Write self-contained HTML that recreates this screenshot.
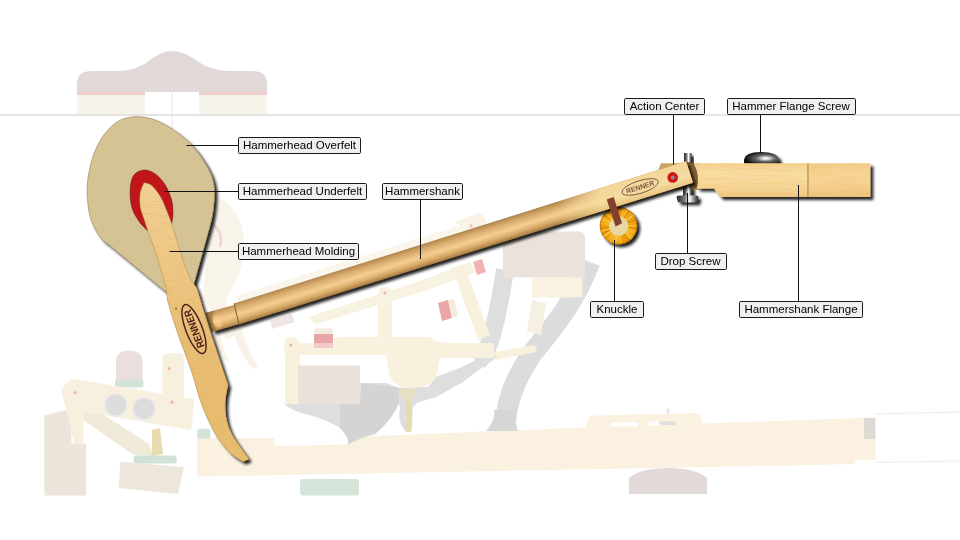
<!DOCTYPE html>
<html><head><meta charset="utf-8">
<style>
html,body{margin:0;padding:0;background:#fff;}
body{width:960px;height:540px;overflow:hidden;position:relative;font-family:"Liberation Sans",sans-serif;}
svg{position:absolute;left:0;top:0;}
.lb rect{fill:#f0f0f0;stroke:#1a1a1a;stroke-width:1;}
.lb text{font-family:"Liberation Sans",sans-serif;font-size:11.5px;fill:#000;text-anchor:middle;}
.ln{stroke:#111;stroke-width:1;fill:none;}
</style></head><body>
<svg width="960" height="540" viewBox="0 0 960 540">
<defs>
  <filter id="sh" x="-20%" y="-20%" width="150%" height="150%">
    <feGaussianBlur in="SourceAlpha" stdDeviation="1.6"/>
    <feOffset dx="3" dy="3.2" result="o"/>
    <feComponentTransfer><feFuncA type="linear" slope="0.88"/></feComponentTransfer>
    <feMerge><feMergeNode/><feMergeNode in="SourceGraphic"/></feMerge>
  </filter>
  <linearGradient id="shankg" gradientUnits="userSpaceOnUse" x1="456.4" y1="232.3" x2="463.6" y2="255.3">
    <stop offset="0" stop-color="#936d3a"/>
    <stop offset="0.1" stop-color="#bb8f54"/>
    <stop offset="0.3" stop-color="#ddb072"/>
    <stop offset="0.55" stop-color="#f5ce93"/>
    <stop offset="0.78" stop-color="#d8a966"/>
    <stop offset="1" stop-color="#98713b"/>
  </linearGradient>
  <linearGradient id="flatg" gradientUnits="userSpaceOnUse" x1="616.4" y1="182" x2="623.6" y2="206">
    <stop offset="0" stop-color="#f3d596"/>
    <stop offset="0.6" stop-color="#f6dca0"/>
    <stop offset="1" stop-color="#e6c27c"/>
  </linearGradient>
  <linearGradient id="flatfade" gradientUnits="userSpaceOnUse" x1="555" y1="0" x2="600" y2="0">
    <stop offset="0" stop-color="#fff" stop-opacity="0"/>
    <stop offset="1" stop-color="#fff" stop-opacity="1"/>
  </linearGradient>
  <mask id="flatm"><rect x="500" y="100" width="300" height="200" fill="url(#flatfade)"/></mask>
  <linearGradient id="flange" x1="0" y1="0" x2="0" y2="1">
    <stop offset="0" stop-color="#f4d291"/>
    <stop offset="0.3" stop-color="#f9dda3"/>
    <stop offset="0.7" stop-color="#f7d698"/>
    <stop offset="1" stop-color="#eec684"/>
  </linearGradient>
  <linearGradient id="mold" gradientUnits="userSpaceOnUse" x1="0" y1="182" x2="0" y2="462">
    <stop offset="0" stop-color="#f1cf96"/>
    <stop offset="0.35" stop-color="#edc684"/>
    <stop offset="0.55" stop-color="#e8bd76"/>
    <stop offset="1" stop-color="#e8bc6e"/>
  </linearGradient>
  <radialGradient id="knk" cx="0.5" cy="0.5" r="0.5">
    <stop offset="0.5" stop-color="#f8b21c"/>
    <stop offset="0.9" stop-color="#f0a010"/>
    <stop offset="1" stop-color="#c98206"/>
  </radialGradient>
  <linearGradient id="metal" x1="0" y1="0" x2="1" y2="0">
    <stop offset="0" stop-color="#222"/>
    <stop offset="0.35" stop-color="#777"/>
    <stop offset="0.6" stop-color="#fff"/>
    <stop offset="0.8" stop-color="#888"/>
    <stop offset="1" stop-color="#222"/>
  </linearGradient>
  <linearGradient id="screw" x1="0" y1="0" x2="1" y2="0">
    <stop offset="0" stop-color="#111"/>
    <stop offset="0.3" stop-color="#555"/>
    <stop offset="0.55" stop-color="#f4f4f4"/>
    <stop offset="0.75" stop-color="#777"/>
    <stop offset="1" stop-color="#111"/>
  </linearGradient>
  <filter id="grainH" x="0" y="0" width="100%" height="100%">
    <feTurbulence type="fractalNoise" baseFrequency="0.03 0.9" numOctaves="2" seed="4" result="n"/>
    <feColorMatrix in="n" type="matrix" values="0 0 0 0 0.82  0 0 0 0 0.52  0 0 0 0 0.12  0 0 0 -2.2 1.25" result="g"/>
    <feComposite in="g" in2="SourceAlpha" operator="in"/>
  </filter>
  <filter id="grainV" x="0" y="0" width="100%" height="100%">
    <feTurbulence type="fractalNoise" baseFrequency="0.08 0.6" numOctaves="2" seed="9" result="n"/>
    <feColorMatrix in="n" type="matrix" values="0 0 0 0 0.78  0 0 0 0 0.48  0 0 0 0 0.1  0 0 0 -2.2 1.2" result="g"/>
    <feComposite in="g" in2="SourceAlpha" operator="in"/>
  </filter>
  <filter id="feltn" x="0" y="0" width="100%" height="100%">
    <feTurbulence type="fractalNoise" baseFrequency="0.9" numOctaves="1" seed="2" result="n"/>
    <feColorMatrix in="n" type="matrix" values="0 0 0 0 0.3  0 0 0 0 0.25  0 0 0 0 0.1  0 0 0 -0.8 0.5" result="g"/>
    <feComposite in="g" in2="SourceAlpha" operator="in"/>
  </filter>
  <radialGradient id="dome" cx="0.62" cy="0.55" r="0.6">
    <stop offset="0" stop-color="#ffffff"/>
    <stop offset="0.18" stop-color="#d8d8d8"/>
    <stop offset="0.45" stop-color="#6a6a6a"/>
    <stop offset="1" stop-color="#0c0c0c"/>
  </radialGradient>
</defs>
<!-- ============ faded background ============ -->
<g id="bg">
  <!-- damper head -->
  <path d="M77,92 L77,84 Q77,71 92,71 L120,71 Q138,70 150,60 Q162,51 172,51 Q184,51 197,61 Q210,70 228,71 L252,71 Q267,71 267,84 L267,92 Z" fill="#e1d9d7"/>
  <rect x="77" y="92" width="68" height="3" fill="#f0cdcd"/>
  <rect x="199" y="92" width="68" height="3" fill="#f0cdcd"/>
  <rect x="77" y="95" width="68" height="19.500" fill="#f6f3ea"/>
  <rect x="199" y="95" width="68" height="19.500" fill="#f6f3ea"/>
  <rect x="171.600" y="85" width="1" height="44" fill="#e6e6e6"/>
  <rect x="0" y="114.300" width="960" height="1.400" fill="#dadada"/>

  <!-- ghost hammer (rest position) -->
  <path d="M212,196 C232,200 246,222 244,250 C243,268 236,282 226,300 L236,335 L226,340 L205,300 C200,280 214,240 212,196 Z" fill="#f8f4ea"/>
  <path d="M211,224 C219,227 223,236 220,247" fill="none" stroke="#f2d4d6" stroke-width="2.500"/>
  <!-- ghost shank -->
  <path d="M236,296 L470,222 L474,232 L240,306 Z" fill="#faf6ec"/>
  <path d="M455,222 L478,213 L484,216 L488,226 L470,233 Z" fill="#f8f3e6"/>
  <circle cx="471" cy="226" r="1.800" fill="#f1c4c4"/>

  <path d="M231,322 L241,320 C243,340 250,355 258,366 L254,369 C244,360 235,342 231,322 Z" fill="#f7f2e5"/>
  <path d="M214,336 L221,334 C222,345 225,353 229,360 L225,361 C219,353 215,345 214,336 Z" fill="#f8f4e9"/>
  <path d="M270,321 L292,314 L294.500,322 L272.500,329 Z" fill="#efe5e3"/>
  <!-- key -->
  <path d="M197,438 L274,438 L275,446 L345,444.500 L364,436.500 L586,427.500 L588,420 Q589,415.600 594,415.600 L694,413 Q700,413 701,418 L702,423.500 L875.600,417.600 L875.600,460 L855,460 L855,464 L790,465.500 L197,476.500 Z" fill="#fbf1e0"/>
  <rect x="611" y="422.400" width="27" height="4" fill="#ffffff"/>
  <rect x="649" y="421.500" width="10.500" height="4" fill="#ffffff"/>
  <rect x="659.500" y="421.500" width="16" height="3.500" fill="#dedede"/>
  <rect x="666.500" y="408.500" width="3" height="5" rx="1.500" fill="#e3e3e3"/>
  <rect x="864.200" y="418" width="11" height="21" fill="#ddd9d3"/>
  <path d="M875.600,414 L960,412 M875.600,462.500 L960,461" fill="none" stroke="#ececec" stroke-width="1"/>
  <!-- balance pivot -->
  <path d="M629,494 L629,478 Q640,468 668,468 Q696,468 707,478 L707,494 Z" fill="#e2dad8"/>
  <!-- green felt under key -->
  <rect x="300" y="479" width="59" height="16.500" rx="3" fill="#d6e5da"/>

  <!-- gray bracket frames -->
  <path d="M283.600,403.400 L360,403.400 L360.700,383 L386,383 L398.500,387.700 L428,387 L436.300,376.700 L461.400,367.200 L480.300,357.800 L493,348.300 L499,356 L480.300,369 L461.400,383 L436.300,397 L417.400,402.500 L412.700,408 L412,431 L405,431 Q397,421 400,409 L399,403 Q392,420 375,434 L364,437 L348,444.300 Q350,438 338.700,427 Q325,419 307.200,414.400 Q292,411 283.600,403.400 Z" fill="#dedede"/>
  <path d="M360.700,383 L398.500,387.700 L399,403 Q392,420 375,434 L364,437 L348,444 Q350,438 340,428 L340,403.400 L360,403.400 Z" fill="#d4d4d4"/>
  <path d="M478,362 Q488,350 491,338 Q498,315 505,270" fill="none" stroke="#dedede" stroke-width="18" stroke-linecap="butt"/>
  <path d="M505,430 C506,400 515,380 531,355 C548,333 572,308 590,262" fill="none" stroke="#dcdcdc" stroke-width="21" stroke-linecap="butt"/>
  <path d="M486,431 Q496,420 494,410 L516,410 Q514,420 518,431 Z" fill="#d6d6d6"/>
  <!-- wippen -->
  <path d="M284,344 Q284,337 291,337 Q298,337 300,343 L330,343 Q334,337 340,337 L378,337 L378,295 Q378,287 385,287 Q392,287 392,295 L392,337 L430,337 Q436,343 450,343 L494,343 L494,358 L440,358 L436,378 L425,387 L400,387 L390,378 L386,355 L300,355 L300,404 L285,404 L285,354 Q284,350 284,344 Z" fill="#f8f1de"/>
  <path d="M494,352 L534,345 Q538,348 536,352 L496,360 Z" fill="#f8f1de"/>
  <!-- repetition lever -->
  <path d="M308,317 L420,281 L470,262 L476,272 L428,290 L316,324 Z" fill="#f8f2e2"/>
  <!-- jack -->
  <path d="M452,268 L464,264 L490,335 L478,340 Z" fill="#f8f1de"/>
  <!-- wood blocks -->
  <rect x="298" y="365.500" width="62" height="38.500" fill="#eae1da"/>
  <path d="M503,231.500 L578,231.500 Q585,231.500 585,238 L585,277.500 L503,277.500 Z" fill="#ebe2db"/>
  <rect x="532" y="277.500" width="50.500" height="20" fill="#f9f2e0"/>
  <path d="M532,300 L546,303 L541,335 L527,331 Z" fill="#f6f0e2"/>
  <!-- red buttons -->
  <rect x="314" y="328.500" width="19" height="6" rx="2" fill="#f3ecdc"/>
  <rect x="314" y="334" width="19" height="9" fill="#eaa5a6"/>
  <rect x="314" y="343" width="19" height="5" fill="#f3c9c9"/>
  <path d="M438,303 L448,300 L452,318 L442,321 Z" fill="#eaa5a6"/>
  <path d="M448,300 L454,299 L458,316 L452,318 Z" fill="#f3ecdc"/>
  <path d="M473,262 L482,259 L486,272 L477,275 Z" fill="#f0b4b4"/>
  <!-- capstan/regulating screw -->
  <rect x="406" y="397" width="5" height="35" fill="#e6dcb4"/>
  <rect x="398.500" y="388" width="17.500" height="10.500" rx="2" fill="#e6dfc6"/>

  <!-- left assembly -->
  <path d="M44.200,415.500 L71.400,408.700 L71.400,443.600 L86.200,443.600 L86.200,495.400 L44.200,495.400 Z" fill="#ece5db"/>
  <path d="M116,380 L116,362 Q116,350.400 129,350.400 Q142.500,350.400 142.500,362 L142.500,380 Z" fill="#eadfdc"/>
  <rect x="115" y="379.400" width="28.500" height="8" rx="2.500" fill="#d3e3d7"/>
  <path d="M162.300,358 Q162.300,353.300 168,353.300 L180,353.300 Q184,353.300 184,358 L184,408 Q184,416 173,416 Q162.300,416 162.300,408 Z" fill="#f7f0de"/>
  <path d="M61,389 L71.400,378.500 L194.300,399.200 L191.300,430.300 L83.300,411.500 L83.300,443.600 L74.400,443.600 Z" fill="#f7f0de"/>
  <path d="M83.300,411.500 L104,415 L148.400,443.600 L154.300,455.500 L133.600,455 L83.300,420 Z" fill="#f0ead8"/>
  <circle cx="115.800" cy="405.100" r="11.200" fill="#dcdcdc" stroke="#ebebeb" stroke-width="1.500"/>
  <circle cx="144" cy="408.700" r="11.200" fill="#dcdcdc" stroke="#ebebeb" stroke-width="1.500"/>
  <circle cx="75" cy="392.500" r="1.600" fill="#f0b6b6"/>
  <circle cx="169.100" cy="368.700" r="1.600" fill="#f0b6b6"/>
  <circle cx="172.100" cy="402.200" r="1.600" fill="#f0b6b6"/>
  <circle cx="290.700" cy="345" r="1.600" fill="#f0b6b6"/>
  <circle cx="385" cy="293" r="1.600" fill="#f0b6b6"/>
  <path d="M152,430 L160,428 L163,454 L152,456 Z" fill="#e8dcae"/>
  <rect x="133.600" y="455.500" width="43" height="8" rx="2.500" fill="#d0e1d5"/>
  <path d="M120.300,461.400 L183.900,467.300 L178,494 L118.800,488 Z" fill="#ede6db"/>
  <rect x="197.300" y="428.800" width="13" height="10" rx="2" fill="#d3e3d7"/>
</g>
<!-- ============ main parts ============ -->
<g id="main" opacity="0.999">
  <path d="M661,163.300 L700,163.300 L700,190 L650,190 Z" fill="#c9a565"/>
  <g filter="url(#sh)"><rect x="684" y="153" width="7.500" height="11" fill="url(#metal)"/></g>
  <g filter="url(#sh)">
    <rect x="683" y="186" width="9" height="10" fill="url(#metal)"/>
    <path d="M676.500,197 Q676.500,195.500 679,195.500 L696,195.500 Q698.500,195.500 698.500,197 L697,202.300 L678,202.300 Z" fill="url(#metal)"/>
  </g>
  <g filter="url(#sh)">
    <path d="M744,163.500 L744,160 Q745,152 761,152 Q778,152 779,160 L779,163.500 Z" fill="url(#dome)"/>
  </g>
  <g filter="url(#sh)">
    <path id="flp" d="M693.500,163.300 L870.300,163.300 L870.300,196.900 L720.600,196.900 L714,188.500 L696.700,188.500 Q700.500,176 693.500,163.300 Z" fill="url(#flange)"/>
  </g>
  <use href="#flp" filter="url(#grainH)" opacity="0.4"/>
  <path d="M686,161.500 L693.500,163.300 Q700.500,176 696.700,188.500 L693,188.500 Z" fill="#7e5f32"/>
  <rect x="807.500" y="163.300" width="1" height="33.600" fill="#9a7a48"/>
  <rect x="808.500" y="163.300" width="61.800" height="33.600" fill="#f0b468" opacity="0.2"/>
  <g filter="url(#sh)">
    <circle cx="618.500" cy="225.700" r="18.700" fill="url(#knk)"/>
  </g>
  <g opacity="0.75"><line x1="627.8" y1="225.7" x2="636.9" y2="225.5" stroke="#ffd257" stroke-width="0.9"/><line x1="627.7" y1="227.3" x2="636.7" y2="228.8" stroke="#c77c05" stroke-width="1.0"/><line x1="627.3" y1="229.0" x2="635.8" y2="232.0" stroke="#ffc63a" stroke-width="0.8"/><line x1="626.8" y1="230.0" x2="635.0" y2="234.0" stroke="#ffc63a" stroke-width="1.0"/><line x1="626.0" y1="231.4" x2="633.3" y2="236.8" stroke="#ffc63a" stroke-width="1.0"/><line x1="625.2" y1="232.4" x2="631.7" y2="238.7" stroke="#ffd257" stroke-width="1.2"/><line x1="623.9" y1="233.5" x2="629.2" y2="240.9" stroke="#c77c05" stroke-width="1.1"/><line x1="622.8" y1="234.1" x2="627.2" y2="242.1" stroke="#c77c05" stroke-width="0.8"/><line x1="621.5" y1="234.7" x2="624.5" y2="243.3" stroke="#d98a08" stroke-width="0.9"/><line x1="619.7" y1="235.2" x2="621.0" y2="244.2" stroke="#ffc63a" stroke-width="1.1"/><line x1="618.1" y1="235.3" x2="617.8" y2="244.4" stroke="#ffc63a" stroke-width="1.1"/><line x1="616.8" y1="235.2" x2="615.3" y2="244.2" stroke="#ffd257" stroke-width="1.2"/><line x1="615.6" y1="234.9" x2="613.0" y2="243.6" stroke="#ffd257" stroke-width="0.9"/><line x1="614.1" y1="234.3" x2="610.1" y2="242.5" stroke="#ffc63a" stroke-width="1.1"/><line x1="612.6" y1="233.4" x2="607.0" y2="240.6" stroke="#ffc63a" stroke-width="1.0"/><line x1="611.6" y1="232.6" x2="605.2" y2="239.0" stroke="#d98a08" stroke-width="1.0"/><line x1="610.6" y1="231.4" x2="603.3" y2="236.8" stroke="#ffd257" stroke-width="1.2"/><line x1="609.8" y1="230.0" x2="601.6" y2="234.1" stroke="#c77c05" stroke-width="1.2"/><line x1="609.2" y1="228.5" x2="600.4" y2="231.0" stroke="#ffd257" stroke-width="1.1"/><line x1="608.9" y1="227.4" x2="600.0" y2="228.9" stroke="#c77c05" stroke-width="1.1"/><line x1="608.8" y1="226.0" x2="599.7" y2="226.1" stroke="#d98a08" stroke-width="0.8"/><line x1="608.9" y1="224.6" x2="599.9" y2="223.4" stroke="#ffc63a" stroke-width="0.7"/><line x1="609.3" y1="222.7" x2="600.7" y2="219.7" stroke="#ffc63a" stroke-width="1.2"/><line x1="609.7" y1="221.7" x2="601.5" y2="217.8" stroke="#ffc63a" stroke-width="1.1"/><line x1="610.7" y1="220.0" x2="603.5" y2="214.5" stroke="#c77c05" stroke-width="1.0"/><line x1="611.7" y1="219.0" x2="605.4" y2="212.4" stroke="#ffc63a" stroke-width="1.1"/><line x1="612.6" y1="218.2" x2="607.2" y2="210.9" stroke="#d98a08" stroke-width="1.0"/><line x1="614.2" y1="217.2" x2="610.4" y2="209.0" stroke="#d98a08" stroke-width="0.6"/><line x1="615.2" y1="216.8" x2="612.1" y2="208.3" stroke="#c77c05" stroke-width="1.3"/><line x1="617.1" y1="216.4" x2="615.9" y2="207.4" stroke="#d98a08" stroke-width="1.0"/><line x1="618.1" y1="216.3" x2="617.9" y2="207.2" stroke="#c77c05" stroke-width="1.3"/><line x1="619.7" y1="216.4" x2="621.0" y2="207.4" stroke="#d98a08" stroke-width="1.3"/><line x1="621.4" y1="216.8" x2="624.5" y2="208.3" stroke="#ffc63a" stroke-width="0.9"/><line x1="622.8" y1="217.4" x2="627.1" y2="209.4" stroke="#ffc63a" stroke-width="1.1"/><line x1="623.9" y1="218.1" x2="629.3" y2="210.8" stroke="#c77c05" stroke-width="1.0"/><line x1="625.2" y1="219.3" x2="631.8" y2="213.0" stroke="#d98a08" stroke-width="0.9"/><line x1="626.1" y1="220.3" x2="633.5" y2="215.1" stroke="#ffd257" stroke-width="1.3"/><line x1="626.7" y1="221.5" x2="634.8" y2="217.3" stroke="#d98a08" stroke-width="1.0"/><line x1="627.3" y1="222.9" x2="636.0" y2="220.1" stroke="#c77c05" stroke-width="1.2"/><line x1="627.7" y1="224.6" x2="636.7" y2="223.4" stroke="#d98a08" stroke-width="0.6"/></g>
  <circle cx="618.500" cy="225.700" r="18.300" fill="none" stroke="#b06f08" stroke-width="0.800" opacity="0.6"/>
  <circle cx="618.700" cy="226.100" r="9.600" fill="#e8d7a6"/>
  <g filter="url(#sh)">
    <path d="M206,312.800 L234,305 L239,324 L212.600,331.700 Z" fill="url(#shankg)"/>
    <path d="M234,303.400 L686,161.200 L693,182.800 L239,324.200 Z" fill="url(#shankg)"/>
  </g>
  <path d="M540,207 L686,161.200 L693,182.800 L540,230.400 Z" fill="url(#flatg)" mask="url(#flatm)"/>
  <path d="M234,303.400 L239,324.200" stroke="#6b4f22" stroke-width="0.800" fill="none"/>
  <path d="M205.500,313 L214,310.800 Q209.500,321 217.500,330.300 L211.500,332.300 Z" fill="#a0783c" opacity="0.85"/>
  <ellipse cx="218.500" cy="321.500" rx="3.500" ry="6" transform="rotate(-17 218.500 321.500)" fill="#fcd590" opacity="0.55"/>
  <path d="M606.700,199.400 L613.700,196.900 L622,223.300 L615.600,226.400 Z" fill="#81412d"/>
  <g transform="translate(640.100,187) rotate(-17.500)">
    <ellipse cx="0" cy="0" rx="19" ry="6.300" fill="none" stroke="#7a5a46" stroke-width="0.900"/>
    <text x="0" y="2.600" font-family="Liberation Sans, sans-serif" font-size="7.200" font-weight="bold" fill="#7a5a46" text-anchor="middle" textLength="29" lengthAdjust="spacingAndGlyphs">RENNER</text>
  </g>
  <circle cx="672.700" cy="177.400" r="5.300" fill="#d3151a"/>
  <circle cx="672.700" cy="177.400" r="2" fill="#8c8c8c"/>
  <g filter="url(#sh)"><path d="M144.0,182.7 C144.0,182.7 149.6,183.5 151.6,185.2 C154.3,187.5 157.9,192.4 160.4,196.5 C162.9,200.7 164.8,205.8 166.7,210.4 C168.5,214.8 170.2,219.3 171.7,223.8 C173.6,229.4 175.9,237.2 178.0,243.9 C180.1,250.6 182.2,258.2 184.3,264.1 C186.1,269.2 188.7,275.5 190.6,279.2 C191.9,281.7 194.5,284.3 195.6,286.1 C196.3,287.3 196.9,288.7 197.3,290.0 C198.7,294.2 201.6,304.3 203.8,311.4 C206.4,319.7 210.4,332.1 213.0,340.0 C215.1,346.3 217.2,352.6 219.3,358.9 C221.8,366.4 228.2,385.3 228.2,385.3 C228.2,385.3 225.8,395.0 225.4,400.0 C225.0,405.2 225.2,411.1 226.0,416.4 C226.8,421.6 228.5,426.9 230.5,431.5 C232.4,436.0 235.3,440.0 238.0,444.0 C241.1,448.6 249.0,459.2 249.0,459.2 L243.0,461.5 C243.0,461.5 234.2,456.4 230.5,452.9 C226.3,448.9 221.5,443.3 217.9,437.8 C214.1,432.1 210.8,425.2 207.8,418.9 C204.9,412.8 202.4,406.4 200.2,400.0 C197.5,392.1 194.7,380.9 191.6,371.5 C188.3,361.5 183.2,348.3 180.2,340.0 C178.0,333.9 175.8,327.7 173.8,321.5 C171.7,314.8 168.8,305.2 167.5,300.0 C166.7,296.7 167.0,293.3 166.3,290.0 C165.1,284.6 162.4,274.9 160.4,267.9 C158.4,261.1 156.2,253.9 154.1,247.7 C152.2,242.0 149.5,235.4 147.8,230.7 C146.5,226.9 145.2,223.1 144.0,219.2 C142.7,215.2 140.8,210.9 140.2,206.6 C139.6,202.2 139.6,196.7 140.2,192.7 C140.8,189.2 144.0,182.7 144.0,182.7 Z" fill="url(#mold)"/></g>
  <g filter="url(#sh)"><path d="M136.7,116.6 C142.6,116.6 149.7,118.0 155.6,120.1 C161.4,122.1 166.7,125.6 171.9,128.9 C177.1,132.3 182.4,136.0 187.0,140.3 C191.7,144.7 196.2,150.0 200.0,155.4 C204.0,161.0 208.4,168.3 210.8,173.9 C212.9,178.7 214.1,183.8 214.5,189.0 C214.9,195.1 214.1,203.9 213.3,210.4 C212.5,216.4 211.1,222.2 209.5,228.0 L193.5,285.5 L180.0,292.0 L165.0,291.0 L110.0,245.8 C106.6,243.0 102.6,240.6 100.0,237.0 C96.8,232.7 93.1,226.1 91.0,220.0 C88.9,213.8 88.1,206.3 87.5,200.0 C86.9,194.0 86.8,188.0 87.5,182.0 C88.2,175.2 90.1,165.7 92.0,159.2 C93.7,153.5 96.3,147.6 98.9,142.8 C101.3,138.3 104.2,133.9 107.7,130.2 C111.3,126.4 115.5,122.4 120.3,120.1 C125.1,117.8 131.1,116.6 136.7,116.6 Z" fill="#d7c596"/></g>
  <path d="M136.7,116.6 C142.6,116.6 149.7,118.0 155.6,120.1 C161.4,122.1 166.7,125.6 171.9,128.9 C177.1,132.3 182.4,136.0 187.0,140.3 C191.7,144.7 196.2,150.0 200.0,155.4 C204.0,161.0 208.4,168.3 210.8,173.9 C212.9,178.7 214.1,183.8 214.5,189.0 C214.9,195.1 214.1,203.9 213.3,210.4 C212.5,216.4 211.1,222.2 209.5,228.0 L193.5,285.5 L180.0,292.0 L165.0,291.0 L110.0,245.8 C106.6,243.0 102.6,240.6 100.0,237.0 C96.8,232.7 93.1,226.1 91.0,220.0 C88.9,213.8 88.1,206.3 87.5,200.0 C86.9,194.0 86.8,188.0 87.5,182.0 C88.2,175.2 90.1,165.7 92.0,159.2 C93.7,153.5 96.3,147.6 98.9,142.8 C101.3,138.3 104.2,133.9 107.7,130.2 C111.3,126.4 115.5,122.4 120.3,120.1 C125.1,117.8 131.1,116.6 136.7,116.6 Z" filter="url(#feltn)" opacity="0.35"/>
  <path d="M136.7,116.6 C142.6,116.6 149.7,118.0 155.6,120.1 C161.4,122.1 166.7,125.6 171.9,128.9 C177.1,132.3 182.4,136.0 187.0,140.3 C191.7,144.7 196.2,150.0 200.0,155.4 C204.0,161.0 208.4,168.3 210.8,173.9 C212.9,178.7 214.1,183.8 214.5,189.0 C214.9,195.1 214.1,203.9 213.3,210.4 C212.5,216.4 211.1,222.2 209.5,228.0 L193.5,285.5 L180.0,292.0 L165.0,291.0 L110.0,245.8 C106.6,243.0 102.6,240.6 100.0,237.0 C96.8,232.7 93.1,226.1 91.0,220.0 C88.9,213.8 88.1,206.3 87.5,200.0 C86.9,194.0 86.8,188.0 87.5,182.0 C88.2,175.2 90.1,165.7 92.0,159.2 C93.7,153.5 96.3,147.6 98.9,142.8 C101.3,138.3 104.2,133.9 107.7,130.2 C111.3,126.4 115.5,122.4 120.3,120.1 C125.1,117.8 131.1,116.6 136.7,116.6 Z" fill="none" stroke="#8f7f58" stroke-width="0.7" opacity="0.8"/>
  <path d="M144.0,170.0 C147.6,169.8 152.1,171.6 155.3,173.9 C158.9,176.4 162.7,180.9 165.4,185.2 C168.1,189.6 170.4,195.5 171.7,200.3 C172.9,204.8 173.0,210.3 173.0,214.2 C173.0,217.4 171.7,223.8 171.7,223.8 L160.0,228.0 L147.8,230.7 C147.8,230.7 142.3,226.0 140.2,223.0 C137.6,219.2 133.6,213.4 132.0,207.9 C130.3,202.2 129.9,194.5 130.2,189.0 C130.5,184.2 131.6,178.3 133.9,175.1 C136.1,172.0 140.4,170.2 144.0,170.0 Z" fill="#c01519" stroke="#5e1212" stroke-width="0.500"/>
  <path d="M144.0,182.7 C144.0,182.7 149.6,183.5 151.6,185.2 C154.3,187.5 157.9,192.4 160.4,196.5 C162.9,200.7 164.8,205.8 166.7,210.4 C168.5,214.8 170.2,219.3 171.7,223.8 C173.6,229.4 175.9,237.2 178.0,243.9 C180.1,250.6 182.2,258.2 184.3,264.1 C186.1,269.2 188.7,275.5 190.6,279.2 C191.9,281.7 194.5,284.3 195.6,286.1 C196.3,287.3 196.9,288.7 197.3,290.0 C198.7,294.2 201.6,304.3 203.8,311.4 C206.4,319.7 210.4,332.1 213.0,340.0 C215.1,346.3 217.2,352.6 219.3,358.9 C221.8,366.4 228.2,385.3 228.2,385.3 C228.2,385.3 225.8,395.0 225.4,400.0 C225.0,405.2 225.2,411.1 226.0,416.4 C226.8,421.6 228.5,426.9 230.5,431.5 C232.4,436.0 235.3,440.0 238.0,444.0 C241.1,448.6 249.0,459.2 249.0,459.2 L243.0,461.5 C243.0,461.5 234.2,456.4 230.5,452.9 C226.3,448.9 221.5,443.3 217.9,437.8 C214.1,432.1 210.8,425.2 207.8,418.9 C204.9,412.8 202.4,406.4 200.2,400.0 C197.5,392.1 194.7,380.9 191.6,371.5 C188.3,361.5 183.2,348.3 180.2,340.0 C178.0,333.9 175.8,327.7 173.8,321.5 C171.7,314.8 168.8,305.2 167.5,300.0 C166.7,296.7 167.0,293.3 166.3,290.0 C165.1,284.6 162.4,274.9 160.4,267.9 C158.4,261.1 156.2,253.9 154.1,247.7 C152.2,242.0 149.5,235.4 147.8,230.7 C146.5,226.9 145.2,223.1 144.0,219.2 C142.7,215.2 140.8,210.9 140.2,206.6 C139.6,202.2 139.6,196.7 140.2,192.7 C140.8,189.2 144.0,182.7 144.0,182.7 Z" fill="url(#mold)"/>
  <path d="M144.0,182.7 C144.0,182.7 149.6,183.5 151.6,185.2 C154.3,187.5 157.9,192.4 160.4,196.5 C162.9,200.7 164.8,205.8 166.7,210.4 C168.5,214.8 170.2,219.3 171.7,223.8 C173.6,229.4 175.9,237.2 178.0,243.9 C180.1,250.6 182.2,258.2 184.3,264.1 C186.1,269.2 188.7,275.5 190.6,279.2 C191.9,281.7 194.5,284.3 195.6,286.1 C196.3,287.3 196.9,288.7 197.3,290.0 C198.7,294.2 201.6,304.3 203.8,311.4 C206.4,319.7 210.4,332.1 213.0,340.0 C215.1,346.3 217.2,352.6 219.3,358.9 C221.8,366.4 228.2,385.3 228.2,385.3 C228.2,385.3 225.8,395.0 225.4,400.0 C225.0,405.2 225.2,411.1 226.0,416.4 C226.8,421.6 228.5,426.9 230.5,431.5 C232.4,436.0 235.3,440.0 238.0,444.0 C241.1,448.6 249.0,459.2 249.0,459.2 L243.0,461.5 C243.0,461.5 234.2,456.4 230.5,452.9 C226.3,448.9 221.5,443.3 217.9,437.8 C214.1,432.1 210.8,425.2 207.8,418.9 C204.9,412.8 202.4,406.4 200.2,400.0 C197.5,392.1 194.7,380.9 191.6,371.5 C188.3,361.5 183.2,348.3 180.2,340.0 C178.0,333.9 175.8,327.7 173.8,321.5 C171.7,314.8 168.8,305.2 167.5,300.0 C166.7,296.7 167.0,293.3 166.3,290.0 C165.1,284.6 162.4,274.9 160.4,267.9 C158.4,261.1 156.2,253.9 154.1,247.7 C152.2,242.0 149.5,235.4 147.8,230.7 C146.5,226.9 145.2,223.1 144.0,219.2 C142.7,215.2 140.8,210.9 140.2,206.6 C139.6,202.2 139.6,196.7 140.2,192.7 C140.8,189.2 144.0,182.7 144.0,182.7 Z" filter="url(#grainV)" opacity="0.5"/>
  <path d="M144.0,182.7 C144.0,182.7 149.6,183.5 151.6,185.2 C154.3,187.5 157.9,192.4 160.4,196.5 C162.9,200.7 164.8,205.8 166.7,210.4 C168.5,214.8 170.2,219.3 171.7,223.8 C173.6,229.4 175.9,237.2 178.0,243.9 C180.1,250.6 182.2,258.2 184.3,264.1 C186.1,269.2 188.7,275.5 190.6,279.2 C191.9,281.7 194.5,284.3 195.6,286.1 C196.3,287.3 196.9,288.7 197.3,290.0 C198.7,294.2 201.6,304.3 203.8,311.4 C206.4,319.7 210.4,332.1 213.0,340.0 C215.1,346.3 217.2,352.6 219.3,358.9 C221.8,366.4 228.2,385.3 228.2,385.3 C228.2,385.3 225.8,395.0 225.4,400.0 C225.0,405.2 225.2,411.1 226.0,416.4 C226.8,421.6 228.5,426.9 230.5,431.5 C232.4,436.0 235.3,440.0 238.0,444.0 C241.1,448.6 249.0,459.2 249.0,459.2 L243.0,461.5 C243.0,461.5 234.2,456.4 230.5,452.9 C226.3,448.9 221.5,443.3 217.9,437.8 C214.1,432.1 210.8,425.2 207.8,418.9 C204.9,412.8 202.4,406.4 200.2,400.0 C197.5,392.1 194.7,380.9 191.6,371.5 C188.3,361.5 183.2,348.3 180.2,340.0 C178.0,333.9 175.8,327.7 173.8,321.5 C171.7,314.8 168.8,305.2 167.5,300.0 C166.7,296.7 167.0,293.3 166.3,290.0 C165.1,284.6 162.4,274.9 160.4,267.9 C158.4,261.1 156.2,253.9 154.1,247.7 C152.2,242.0 149.5,235.4 147.8,230.7 C146.5,226.9 145.2,223.1 144.0,219.2 C142.7,215.2 140.8,210.9 140.2,206.6 C139.6,202.2 139.6,196.7 140.2,192.7 C140.8,189.2 144.0,182.7 144.0,182.7 Z" fill="none" stroke="#a47c3c" stroke-width="0.6" opacity="0.7"/>
  <g transform="translate(194,329) rotate(-111)">
    <ellipse cx="0" cy="0" rx="26" ry="8.200" fill="none" stroke="#4d2320" stroke-width="1.500"/>
    <text x="0" y="3.800" font-family="Liberation Sans, sans-serif" font-size="10.500" font-weight="bold" fill="#451c1c" text-anchor="middle" textLength="40" lengthAdjust="spacingAndGlyphs">RENNER</text>
    <circle cx="25.500" cy="-9.500" r="0.800" fill="none" stroke="#4d2320" stroke-width="0.500"/>
  </g>
</g>
<!-- ============ labels ============ -->
<g id="labels" opacity="0.999">
  <path class="ln" d="M186.500,145.500 H238 M164.500,191.500 H238 M169.500,251.500 H238 M420.500,199 V259 M673.500,114 V164.500 M760.500,114 V152.500 M687.500,193 V253 M614.500,240 V301 M798.500,185 V301"/>
  <g class="lb"><rect x="238.500" y="137.500" width="122" height="16" rx="1.200"/><text x="299.500" y="148.800">Hammerhead Overfelt</text></g>
  <g class="lb"><rect x="238.500" y="183.500" width="128" height="16" rx="1.200"/><text x="302.500" y="194.800">Hammerhead Underfelt</text></g>
  <g class="lb"><rect x="238.500" y="243.500" width="120" height="16" rx="1.200"/><text x="298.500" y="254.800">Hammerhead Molding</text></g>
  <g class="lb"><rect x="382.500" y="183.500" width="80" height="16" rx="1.200"/><text x="422.500" y="194.800">Hammershank</text></g>
  <g class="lb"><rect x="624.500" y="98.500" width="80" height="16" rx="1.200"/><text x="664.500" y="109.800">Action Center</text></g>
  <g class="lb"><rect x="727.500" y="98.500" width="128" height="16" rx="1.200"/><text x="791" y="109.800">Hammer Flange Screw</text></g>
  <g class="lb"><rect x="655.500" y="253.500" width="71" height="16" rx="1.200"/><text x="690.500" y="264.800">Drop Screw</text></g>
  <g class="lb"><rect x="590.500" y="301.500" width="53" height="16" rx="1.200"/><text x="617" y="312.800">Knuckle</text></g>
  <g class="lb"><rect x="739.500" y="301.500" width="123" height="16" rx="1.200"/><text x="801" y="312.800">Hammershank Flange</text></g>
</g>
</svg>
</body></html>
